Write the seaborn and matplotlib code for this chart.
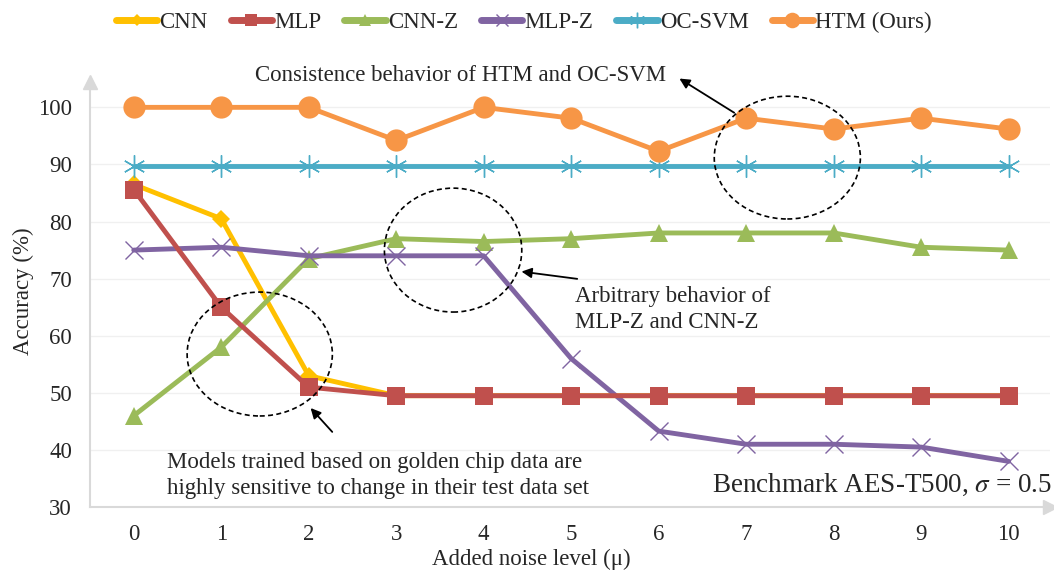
import matplotlib
matplotlib.use("Agg")
import matplotlib.pyplot as plt
from matplotlib.patches import Ellipse
import seaborn as sns
import pandas as pd

noise = [0, 1, 2, 3, 4, 5, 6, 7, 8, 9, 10]

cnn = [86.5, 80.5, 53, 49.5, 49.5, 49.5, 49.5, 49.5, 49.5, 49.5, 49.5]
mlp = [85.6, 65, 51, 49.5, 49.5, 49.5, 49.5, 49.5, 49.5, 49.5, 49.5]
cnn_z = [46, 58, 73.5, 77, 76.5, 77, 78, 78, 78, 75.5, 75]
mlp_z = [75, 75.5, 74, 74, 74, 56, 43.3, 41, 41, 40.5, 38]
oc_svm = [89.7, 89.7, 89.7, 89.7, 89.7, 89.7, 89.7, 89.7, 89.7, 89.7, 89.7]
htm = [100, 100, 100, 94.2, 100, 98.1, 92.3, 98.1, 96.2, 98.1, 96.2]

names = ["CNN", "MLP", "CNN-Z", "MLP-Z", "OC-SVM", "HTM (Ours)"]
series = [cnn, mlp, cnn_z, mlp_z, oc_svm, htm]
colors = ["#FFC000", "#C0504D", "#9BBB59", "#8064A2", "#4BACC6", "#F79646"]

sns.set_style("white")
plt.rcParams["font.family"] = ["Liberation Serif", "DejaVu Serif"]
plt.rcParams["mathtext.fontset"] = "stix"

fig = plt.figure(figsize=(10.54, 5.71), dpi=100)
ax = fig.add_axes([0.0854, 0.112, 0.9106, 0.744])

# marker style per series
styles = {
    "CNN": dict(marker="D", markersize=9, mew=0),
    "MLP": dict(marker="s", markersize=13, mew=0),
    "CNN-Z": dict(marker="^", markersize=13, mew=0),
    "MLP-Z": dict(marker="x", markersize=13, mew=1),
    "OC-SVM": dict(marker=(6, 2, 0), markersize=16, mew=1),
    "HTM (Ours)": dict(marker="o", markersize=16, mew=0),
}
zorders = [3, 4, 3, 3, 3, 5]

for name, vals, col, z in zip(names, series, colors, zorders):
    df = pd.DataFrame({"noise": noise, "acc": vals})
    sns.lineplot(data=df, x="noise", y="acc", color=col, lw=3.5, label=name,
                 ax=ax, zorder=z, mec=col, **styles[name])

ax.set_xlim(-0.5, 10.47)
ax.set_ylim(30, 104.4)
ax.set_xticks(noise)
ax.set_yticks(range(30, 101, 10))
ax.tick_params(axis="both", length=0, labelsize=16.5)
ax.tick_params(axis="x", pad=12)
ax.tick_params(axis="y", pad=13)
for yv in range(40, 101, 10):
    ax.axhline(yv, color="#F0F0F0", lw=1, zorder=0)

sns.despine(ax=ax)
for s in ["left", "bottom"]:
    ax.spines[s].set_color("#D9D9D9")
    ax.spines[s].set_linewidth(1.5)
ax.plot(0, 1, "^", color="#D9D9D9", markersize=10, transform=ax.transAxes, clip_on=False)
ax.plot(1, 0, ">", color="#D9D9D9", markersize=10, transform=ax.transAxes, clip_on=False)

ax.set_xlabel("Added noise level (\u03bc)", fontsize=16.5)
ax.set_ylabel("Accuracy (%)", fontsize=16.5)
ax.xaxis.set_label_coords(0.46, -0.098)
ax.yaxis.set_label_coords(-0.058, 0.508)

# dashed circles
for cx, cy, w, h in [(1.44, 56.8, 1.66, 21.7), (3.65, 75.0, 1.57, 21.7), (7.47, 91.2, 1.67, 21.5)]:
    ax.add_patch(Ellipse((cx, cy), w, h, fill=False, ls=(0, (3, 2)), lw=1.2, color="black", zorder=6))

ax.text(3.73, 105.6, "Consistence behavior of HTM and OC-SVM", fontsize=16.5,
        ha="center", va="center", clip_on=False)
ax.annotate("", xy=(6.21, 105.3), xytext=(6.89, 98.8), annotation_clip=False,
            arrowprops=dict(arrowstyle="-|>", color="black", lw=1.3, mutation_scale=15))

ax.text(5.04, 64.6, "Arbitrary behavior of\nMLP-Z and CNN-Z", fontsize=16.5,
        ha="left", va="center", linespacing=1.3)
ax.annotate("", xy=(4.40, 71.3), xytext=(5.10, 69.9),
            arrowprops=dict(arrowstyle="-|>", color="black", lw=1.3, mutation_scale=15))

ax.text(0.377, 35.5, "Models trained based on golden chip data are\nhighly sensitive to change in their test data set",
        fontsize=16.5, ha="left", va="center", linespacing=1.3)
ax.annotate("", xy=(2.0, 47.7), xytext=(2.29, 42.8),
            arrowprops=dict(arrowstyle="-|>", color="black", lw=1.3, mutation_scale=15))

ax.text(10.49, 33.85, r"Benchmark AES-T500, $\sigma$ = 0.5", fontsize=19.5,
        ha="right", va="center")

handles, labels = ax.get_legend_handles_labels()
ax.legend_.remove()
leg = fig.legend(handles, labels, loc="center", bbox_to_anchor=(0.497, 0.961), ncol=6,
                 frameon=False, fontsize=16.5, handlelength=1.8, handletextpad=0.1,
                 columnspacing=1.0, markerscale=0.7)
for h in leg.get_lines():
    h.set_linewidth(5)
    h.set_solid_capstyle("round")

fig.savefig("out.png", dpi=100)
